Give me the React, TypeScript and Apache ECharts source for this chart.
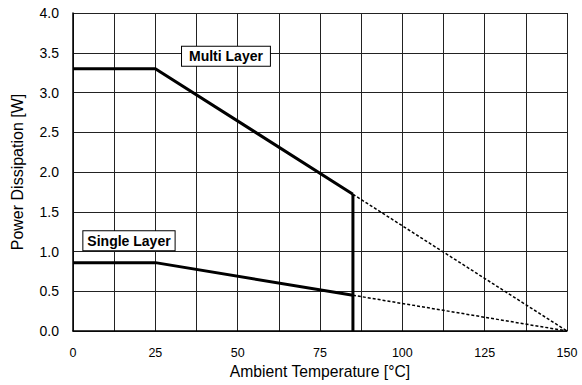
import React, { useEffect, useRef } from "react";
import * as echarts from "echarts";

const multiLayer: [number, number][] = [[0, 3.3], [25, 3.3], [85, 1.72]];
const multiLayerExt: [number, number][] = [[85, 1.72], [150, 0]];
const singleLayer: [number, number][] = [[0, 0.86], [25, 0.86], [85, 0.45]];
const singleLayerExt: [number, number][] = [[85, 0.45], [150, 0]];
const cutoff: [number, number][] = [[85, 1.72], [85, 0]];
const labelNames = ["Multi Layer", "Single Layer"];
const labelPositions: [number, number][] = [[46.6, 3.45], [17.15, 1.13]];
const labelPadding: number[][] = [[3, 7, 2, 7], [3, 4, 2, 4]];

export default function App() {
  const ref = useRef<HTMLDivElement>(null);
  useEffect(() => {
    const chart = echarts.init(ref.current!, null, { renderer: "svg" });
    const font = "'Liberation Sans', Arial, sans-serif";
    const solid = { color: "#000", width: 3 };
    const dotted = { color: "#000", width: 1.5, type: [3, 2] as number[] };
    chart.setOption({
      animation: false,
      backgroundColor: "#fff",
      grid: { left: 73, right: 15, top: 13, bottom: 54, containLabel: false },
      xAxis: {
        type: "value",
        min: 0,
        max: 150,
        interval: 12.5,
        name: "Ambient Temperature [°C]",
        nameLocation: "middle",
        nameGap: 25,
        nameTextStyle: { color: "#000", fontSize: 15.7, fontFamily: font },
        axisLine: { show: true, lineStyle: { color: "#000", width: 1.5 } },
        axisTick: { show: false },
        axisLabel: {
          color: "#000",
          fontSize: 12.5,
          fontFamily: font,
          margin: 15,
          formatter: (v: number) => (v % 25 === 0 ? String(v) : ""),
        },
        splitLine: { show: true, lineStyle: { color: "#222", width: 1 } },
      },
      yAxis: {
        type: "value",
        min: 0,
        max: 4,
        interval: 0.5,
        name: "Power Dissipation [W]",
        nameLocation: "middle",
        nameGap: 48,
        nameTextStyle: { color: "#000", fontSize: 16, fontFamily: font },
        axisLine: { show: true, lineStyle: { color: "#000", width: 1.5 } },
        axisTick: { show: false },
        axisLabel: {
          color: "#000",
          fontSize: 14,
          fontFamily: font,
          margin: 14,
          formatter: (v: number) => v.toFixed(1),
        },
        splitLine: { show: true, lineStyle: { color: "#222", width: 1 } },
      },
      series: [
        { type: "line", data: multiLayer, symbol: "none", lineStyle: solid, z: 5 },
        { type: "line", data: singleLayer, symbol: "none", lineStyle: solid, z: 5 },
        { type: "line", data: cutoff, symbol: "none", lineStyle: solid, z: 5 },
        { type: "line", data: multiLayerExt, symbol: "none", lineStyle: dotted, z: 4 },
        { type: "line", data: singleLayerExt, symbol: "none", lineStyle: dotted, z: 4 },
        {
          type: "scatter",
          data: labelNames.map((n, i) => ({
            name: n,
            value: labelPositions[i],
            label: { padding: labelPadding[i] },
          })),
          symbolSize: 1,
          itemStyle: { color: "#000", opacity: 0 },
          z: 10,
          label: {
            show: true,
            position: [0, 0],
            align: "center",
            verticalAlign: "middle",
            formatter: (p: any) => p.name,
            color: "#000",
            opacity: 1,
            fontSize: 14,
            fontWeight: "bold",
            fontFamily: font,
            textBorderWidth: 0,
            backgroundColor: "#fff",
            borderColor: "#000",
            borderWidth: 1,
          },
        },
      ],
    });
    return () => chart.dispose();
  }, []);
  return (
    <div
      ref={ref}
      style={{ position: "fixed", left: 0, top: 0, width: 582, height: 385 }}
    />
  );
}
